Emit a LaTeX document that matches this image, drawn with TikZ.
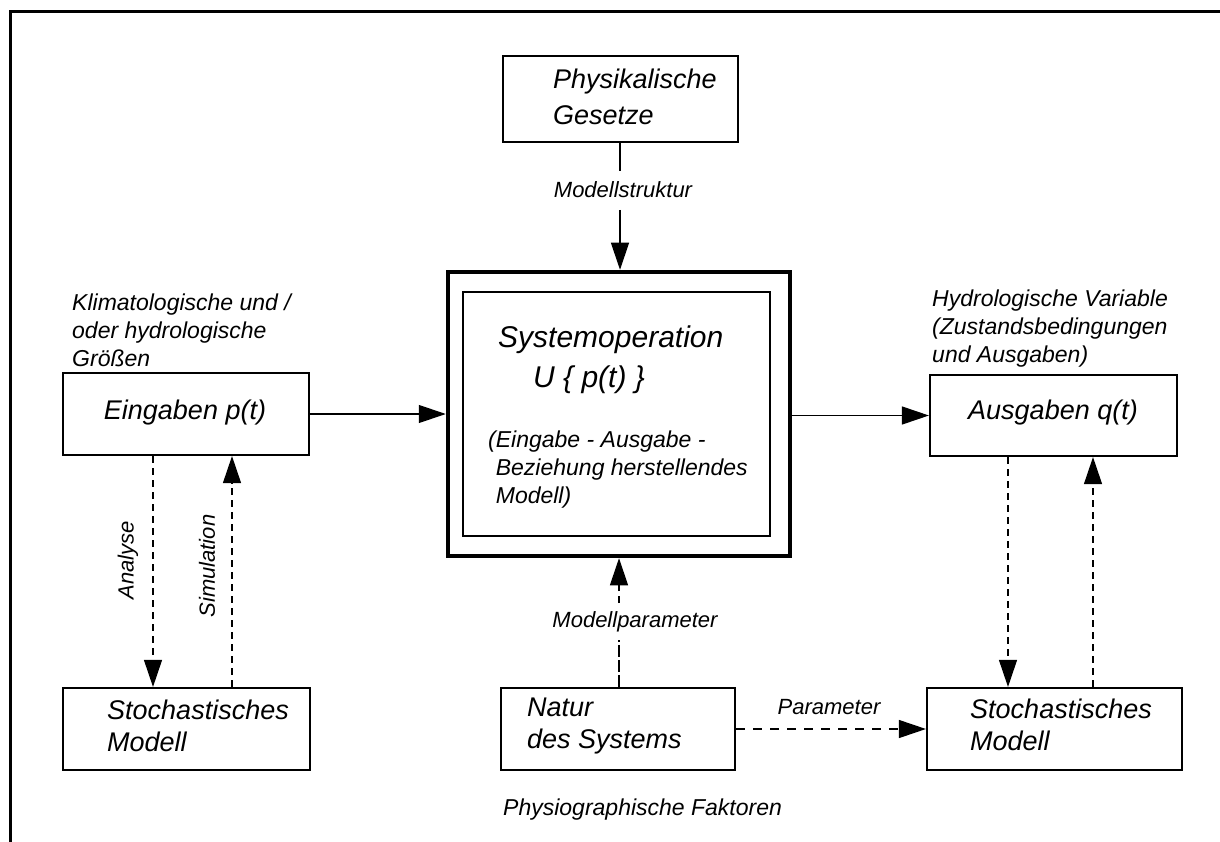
\documentclass[tikz,border=0pt]{standalone}
\usepackage{fontspec}
\setmainfont{Liberation Sans}
\usetikzlibrary{arrows.meta}
\tikzset{
  box/.style={draw, line width=2.2pt, rectangle, inner sep=0pt},
  bigbox/.style={draw, line width=4.5pt, rectangle, inner sep=0pt},
  innerbox/.style={draw, line width=2pt, rectangle, inner sep=0pt},
  btext/.style={font=\itshape\fontsize{27}{32}\selectfont, inner sep=0pt, align=left},
  mtext/.style={font=\itshape\fontsize{30}{40}\selectfont, inner sep=0pt, align=left},
  atext/.style={font=\itshape\fontsize{23}{28}\selectfont, inner sep=0pt, align=left},
  ltext/.style={font=\itshape\fontsize{22}{26}\selectfont, inner sep=0pt},
  tip/.style={-{Triangle[length=27pt,width=18pt]}},
  solidarrow/.style={tip, line width=1.2pt},
  solidline/.style={line width=1.2pt},
  dasharrow/.style={tip, line width=1.2pt, dash pattern=on 7pt off 5pt},
  dashline/.style={line width=1.2pt, dash pattern=on 12pt off 3pt},
  frameline/.style={line width=3pt},
}
\begin{document}
\begin{tikzpicture}[x=1pt,y=-1pt]
\useasboundingbox (0,0) rectangle (1220,842);
% outer frame
\draw[frameline] (1220,12) -- (10,12) -- (10,842);

% boxes
\node[box, minimum width=235pt, minimum height=86pt] (phys) at (620.5,99) {};
\node[btext, anchor=west] at (553,97) {Physikalische\\[4pt]Gesetze};

\node[bigbox, minimum width=342pt, minimum height=284pt] (outer) at (619,414) {};
\node[innerbox, minimum width=307pt, minimum height=244pt] (inner) at (616.5,414) {};
\node[mtext, anchor=west] (sysop) at (498,340) {Systemoperation};
\node[mtext, anchor=west] (uop) at (533,380) {U \{ p(t) \}};
\node[atext, anchor=west] (eab) at (488,470) {(Eingabe - Ausgabe -\\\phantom{(}Beziehung herstellendes\\\phantom{(}Modell)};

\node[box, minimum width=246pt, minimum height=82pt] (ein) at (186,414) {};
\node[btext] at (185,413) {Eingaben p(t)};
\node[atext, anchor=west] at (72,330) {Klimatologische und /\\oder hydrologische\\Größen};

\node[box, minimum width=247pt, minimum height=81pt] (aus) at (1053.5,415.5) {};
\node[btext] at (1053,413) {Ausgaben q(t)};
\node[atext, anchor=west] at (932,329) {Hydrologische Variable\\(Zustandsbedingungen\\und Ausgaben)};

\node[box, minimum width=247pt, minimum height=82pt] (stochL) at (186.5,729) {};
\node[btext, anchor=west] at (107,726) {Stochastisches\\Modell};

\node[box, minimum width=255pt, minimum height=82pt] (stochR) at (1054.5,729) {};
\node[btext, anchor=west] at (970,725) {Stochastisches\\Modell};

\node[box, minimum width=234pt, minimum height=82pt] (natur) at (618,729) {};
\node[btext, anchor=west] at (527,726) {Natur\\des Systems};

\node[atext, anchor=west] (phf) at (503,810) {Physiographische Faktoren};

% labels
\node[ltext] (lstr) at (623,190) {Modellstruktur};
\node[ltext] (lpar) at (635,622) {Modellparameter};
\node[ltext] (lparam) at (829,707) {Parameter};
\node[ltext, rotate=90] (lana) at (128,560) {Analyse};
\node[ltext, rotate=90] (lsim) at (207,566) {Simulation};

% helper coordinates
\coordinate (cx) at (620,0);
\coordinate (cp) at (619,0);
\coordinate (xa) at (153,0);
\coordinate (xs) at (232,0);
\coordinate (xd) at (1008,0);
\coordinate (xu) at (1093,0);
\coordinate (strTop) at (620,171);
\coordinate (strBot) at (620,210);
\coordinate (parTop) at (619,603);
\coordinate (parBot) at (619,640);

% connectors
\draw[solidline] (phys.south -| cx) -- (strTop);
\draw[solidarrow] (strBot) -- (outer.north -| cx);
\draw[solidarrow] (ein.east) -- (ein.east -| outer.west);
\draw[solidarrow] (outer.east |- aus.west) -- (aus.west);
\draw[dashline] (natur.north -| cp) -- (parBot);
\draw[dasharrow] (parTop) -- (outer.south -| cp);
\draw[tip, line width=1.2pt, dash pattern=on 9pt off 8pt] (natur.east) -- (stochR.west);
\draw[dasharrow] (ein.south -| xa) -- (stochL.north -| xa);
\draw[dasharrow] (stochL.north -| xs) -- (ein.south -| xs);
\draw[dasharrow] (aus.south -| xd) -- (stochR.north -| xd);
\draw[dasharrow] (stochR.north -| xu) -- (aus.south -| xu);
\end{tikzpicture}
\end{document}
